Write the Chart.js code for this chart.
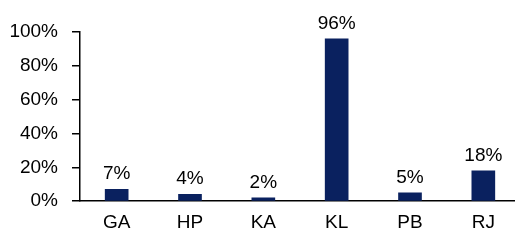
<!DOCTYPE html>
<html>
<head>
<meta charset="utf-8">
<script src="https://cdn.jsdelivr.net/npm/chart.js@4/dist/chart.umd.min.js"></script>
<style>
html,body{margin:0;padding:0;background:#fff;overflow:hidden;width:515px;height:244px;}
canvas{display:block;}
</style>
</head>
<body>
<canvas id="c" width="520" height="244"></canvas>
<script>
const categories = ["GA", "HP", "KA", "KL", "PB", "RJ"];
const values = [7, 4, 2, 96, 5, 18];
const yTicks = [0, 20, 40, 60, 80, 100];

const FONT = "'Liberation Sans', Arial, sans-serif";
const FSIZE = 19;

const valueLabels = {
  id: 'valueLabels',
  afterDatasetsDraw(chart) {
    const ctx = chart.ctx;
    const meta = chart.getDatasetMeta(0);
    ctx.save();
    ctx.font = FSIZE + "px " + FONT;
    ctx.fillStyle = '#000';
    ctx.textAlign = 'center';
    ctx.textBaseline = 'alphabetic';
    meta.data.forEach((bar, i) => {
      ctx.fillText(values[i] + '%', bar.x, bar.y - 10);
    });
    ctx.restore();
  }
};

new Chart(document.getElementById('c'), {
  type: 'bar',
  data: {
    labels: categories,
    datasets: [{
      data: values,
      backgroundColor: '#0a215f',
      barThickness: 23
    }]
  },
  options: {
    responsive: false,
    animation: false,
    layout: { padding: { left: 0, right: 0, top: 32, bottom: 0 } },
    plugins: { legend: { display: false }, tooltip: { enabled: false } },
    scales: {
      x: {
        grid: { display: false, drawTicks: false },
        border: { display: true, color: '#000', width: 1.5 },
        ticks: { color: '#000', font: { family: FONT, size: FSIZE }, padding: 10, maxRotation: 0 }
      },
      y: {
        min: 0, max: 100,
        afterBuildTicks(scale) { scale.ticks = yTicks.map(v => ({ value: v })); },
        afterFit(scale) { scale.width = 80; },
        grid: { drawOnChartArea: false, drawTicks: true, tickLength: 8, color: '#000', lineWidth: 1.5 },
        border: { display: true, color: '#000', width: 1.5 },
        ticks: { color: '#000', font: { family: FONT, size: FSIZE }, padding: 14, callback: v => v + '%' }
      }
    }
  },
  plugins: [valueLabels]
});
</script>
</body>
</html>
